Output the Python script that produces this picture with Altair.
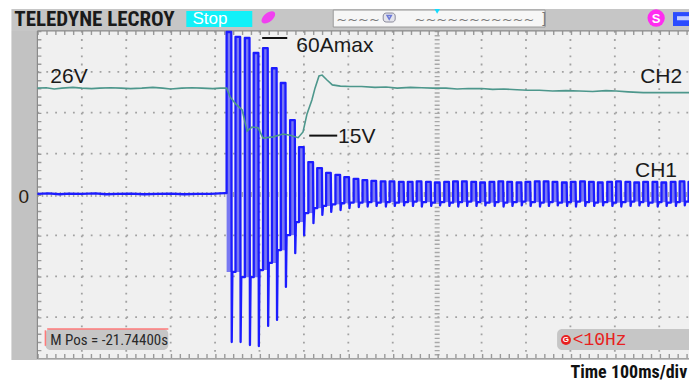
import altair as alt
import pandas as pd

# ---------------- data ----------------
# CH2 : supply voltage, volts (10 V/div), time in ms (100 ms/div, 0 = screen centre)
ch2_time_ms = [-900, -880, -862, -845, -820, -800, -778, -760, -735, -712,
               -690, -665, -640, -618, -600, -575, -552, -530, -505, -488, -474,
               -466, -453, -439, -428, -417, -403, -392, -369, -347, -331,
               -313, -302, -293, -282, -275, -266, -259, -248, -236, -218, -196,
               -170, -140, -115, -90, -60, -35, -10, 20, 45, 70,
               100, 125, 150, 180, 203, 230, 260, 290, 320, 350,
               380, 403, 430, 464, 500, 540, 585]
ch2_volts = [26.0, 26.1, 25.8, 26.0, 26.2, 26.0, 25.9, 26.0, 26.1, 26.0,
             25.9, 26.0, 26.2, 26.0, 25.8, 26.0, 26.1, 26.0, 25.9, 26.0, 26.0,
             23.8, 22.1, 20.7, 15.5, 16.5, 16.3, 13.8, 14.1, 14.8, 14.5,
             13.9, 15.3, 19.7, 23.1, 26.0, 29.0, 29.2, 28.0, 26.8, 26.5, 26.4,
             26.4, 26.2, 26.3, 26.0, 26.2, 26.1, 26.0, 26.0, 25.8, 25.9,
             25.9, 25.7, 25.8, 25.6, 25.5, 25.5, 25.3, 25.4, 25.3, 25.2,
             25.4, 25.3, 25.1, 24.9, 24.9, 24.9, 24.9]

# CH1 : current, amps (15 A/div) - quiet part before switch-on
ch1_base_time_ms = [-900, -875, -850, -830, -800, -770, -745, -720, -690, -660,
                    -630, -600, -570, -540, -510, -490, -478]
ch1_base_amps = [0.2, 0.4, 0.1, 0.3, 0.2, 0.4, 0.1, 0.2, 0.3, 0.1,
                 0.2, 0.3, 0.1, 0.2, 0.2, 0.4, 0.5]

# CH1 : one entry per mains cycle after switch-on
cycle_start_ms = [-474, -454, -433, -413, -392, -372, -352, -331, -311, -290,
                  -270, -250, -229, -209, -188, -168, -148, -127, -107, -86,
                  -66, -46, -25, -5, 16, 36, 56, 77, 97, 118,
                  138, 158, 179, 199, 220, 240, 260, 281, 301, 322,
                  342, 362, 383, 403, 424, 444, 464, 485, 505, 526,
                  546, 566]
cycle_peak_a = [59.6, 57.8, 57.4, 51.9, 53.7, 46.3, 40.9, 27.3, 17.4, 11.9,
                9.7, 7.9, 7.2, 6.4, 5.7, 5.3, 5.0, 4.8, 4.8, 4.6,
                4.6, 4.8, 4.6, 4.4, 4.6, 4.8, 4.8, 4.6, 4.4, 4.6,
                4.8, 4.6, 4.4, 4.6, 4.8, 4.8, 4.6, 4.4, 4.6, 4.8,
                4.6, 4.4, 4.6, 4.8, 4.6, 4.4, 4.6, 4.6, 4.4, 4.6,
                4.8, 4.6]
cycle_fill_a = [-28.4, -28.4, -30.3, -30.3, -27.7, -25.1, -20.4, -14.9, -10.1, -6.8,
                -5.0, -4.2, -3.6, -3.2, -3.0, -3.0, -2.8, -3.0, -2.8, -3.0,
                -2.8, -2.6, -2.8, -3.0, -2.8, -3.0, -2.8, -2.6, -2.8, -3.0,
                -2.8, -3.0, -2.8, -2.6, -2.8, -3.0, -2.8, -3.0, -2.8, -2.6,
                -2.8, -3.0, -2.8, -3.0, -2.8, -2.6, -2.8, -3.0, -2.8, -3.0,
                -2.8, -2.6]
cycle_trough_a = [-54.1, -54.1, -55.2, -55.6, -48.2, -46.0, -33.9, -21.5, -14.9, -10.5,
                  -7.5, -6.4, -5.7, -5.0, -4.6, -4.4, -4.2, -4.4, -4.2, -4.0,
                  -4.2, -4.4, -4.2, -4.0, -4.2, -4.4, -4.2, -4.2, -4.0, -4.2,
                  -4.4, -4.2, -4.0, -4.2, -4.4, -4.2, -4.0, -4.2, -4.4, -4.2,
                  -4.2, -4.0, -4.2, -4.4, -4.2, -4.0, -4.2, -4.4, -4.2, -4.2,
                  -4.0, -4.2]

VOLT_PER_DIV = 10.0
AMP_PER_DIV = 15.0

grid_time_ms = [-800, -700, -600, -500, -400, -300, -200, -100, 100, 200, 300, 400, 500]
grid_div = [-3, -2, -1, 1, 2, 3]

# ---------------- tables ----------------
ch2_df = pd.DataFrame({"t": ch2_time_ms, "d": [v / VOLT_PER_DIV for v in ch2_volts]})
ch2_df["i"] = range(len(ch2_df))

COL_W = 10.5  # width of the positive half-wave column, ms
pts = list(zip(ch1_base_time_ms, ch1_base_amps))
n = len(cycle_start_ms)
for i in range(n):
    t0 = cycle_start_ms[i]
    lo = cycle_fill_a[i] if i > 0 else ch1_base_amps[-1]
    pts.append((t0, lo))
    pts.append((t0, cycle_peak_a[i]))
    pts.append((t0 + COL_W, cycle_peak_a[i]))
    pts.append((t0 + COL_W + 1, cycle_trough_a[i]))
    if i + 1 < n:
        pts.append((t0 + COL_W + 2.5, cycle_fill_a[i + 1]))
ch1_df = pd.DataFrame({"t": [p[0] for p in pts], "d": [p[1] / AMP_PER_DIV for p in pts]})
ch1_df["i"] = range(len(ch1_df))

fill_df = pd.DataFrame({
    "x": cycle_start_ms,
    "x2": [t + COL_W for t in cycle_start_ms],
    "y": [f / AMP_PER_DIV for f in cycle_fill_a],
    "y2": [p / AMP_PER_DIV for p in cycle_peak_a],
})

XMAX = 567.0
xs = alt.Scale(domain=[-966.2, XMAX], nice=False, zero=False)
ys = alt.Scale(domain=[-4.584, 4.560], nice=False, zero=False)


def X(f):
    return alt.X(f, type="quantitative", scale=xs, axis=None)


def Y(f):
    return alt.Y(f, type="quantitative", scale=ys, axis=None)


def rects(rows, **mk):
    return alt.Chart(pd.DataFrame(rows)).mark_rect(**mk).encode(
        x=X("x"), x2="x2", y=Y("y"), y2="y2", color=alt.Color("fill:N", scale=None))


def texts(rows, **mk):
    return alt.Chart(pd.DataFrame(rows)).mark_text(**mk).encode(
        x=X("x"), y=Y("y"), text="s:N")


NARROW = '"Liberation Sans Narrow", "Roboto Condensed", "DejaVu Sans Condensed", "Liberation Sans", sans-serif'
SANS = '"Liberation Sans", Arial, sans-serif'
MONO = '"Liberation Mono", "DejaVu Sans Mono", monospace'

# ---------------- frame ----------------
frame = rects([
    dict(x=-958.5, x2=XMAX, y=4.0, y2=4.535, fill="#c6c6c6"),
    dict(x=-958.5, x2=-900, y=-4.046, y2=4.0, fill="#c2c2c2"),
    dict(x=-900, x2=XMAX, y=-4.025, y2=4.0, fill="#f0f0f0"),
])

vgrid = alt.Chart(pd.DataFrame({"x": grid_time_ms, "y": 4.0, "y2": -4.0})).mark_rule(
    color="#a2a2a2", strokeWidth=1.8, strokeDash=[1.8, 6.38]).encode(x=X("x"), y=Y("y"), y2="y2")
hgrid = alt.Chart(pd.DataFrame({"y": grid_div, "x": -900, "x2": XMAX})).mark_rule(
    color="#a2a2a2", strokeWidth=1.8, strokeDash=[1.8, 7.09]).encode(y=Y("y"), x=X("x"), x2="x2")
vcenter = alt.Chart(pd.DataFrame({"x": [0], "y": 4.0, "y2": -4.0})).mark_rule(
    color="#a8a8a8", strokeWidth=5, strokeDash=[1.4, 2.69]).encode(x=X("x"), y=Y("y"), y2="y2")
hcenter = alt.Chart(pd.DataFrame({"y": [0], "x": -900, "x2": XMAX})).mark_rule(
    color="#a8a8a8", strokeWidth=5, strokeDash=[1.4, 3.04]).encode(y=Y("y"), x=X("x"), x2="x2")
edge_h = alt.Chart(pd.DataFrame({"y": [3.95, -3.95], "x": -900, "x2": XMAX})).mark_rule(
    color="#9a9a9a", strokeWidth=4, strokeDash=[1.4, 7.49]).encode(y=Y("y"), x=X("x"), x2="x2")
edge_v = alt.Chart(pd.DataFrame({"x": [-895.5], "y": 4.0, "y2": -4.0})).mark_rule(
    color="#9a9a9a", strokeWidth=4, strokeDash=[1.4, 6.78]).encode(x=X("x"), y=Y("y"), y2="y2")
border = alt.Chart(pd.DataFrame([
    dict(x=-900, x2=XMAX, y=-4.02, y2=-4.02),
    dict(x=-900, x2=-900, y=4.0, y2=-4.02),
    dict(x=-900, x2=XMAX, y=4.0, y2=4.0),
])).mark_rule(color="#8a8a8a", strokeWidth=1.2).encode(x=X("x"), x2="x2", y=Y("y"), y2="y2")

# ---------------- traces ----------------
ch1_fill = alt.Chart(fill_df).mark_rect(color="#7878f2", clip=True).encode(
    x=X("x"), x2="x2", y=Y("y"), y2="y2")
ch1_line = alt.Chart(ch1_df).mark_line(color="#1c1cff", strokeWidth=2.3, strokeJoin="round",
                                       clip=True).encode(x=X("t"), y=Y("d"), order="i:Q")
ch2_line = alt.Chart(ch2_df).mark_line(color="#4d978c", strokeWidth=1.6, clip=True).encode(
    x=X("t"), y=Y("d"), order="i:Q")

# ---------------- annotations ----------------
ann_lines = alt.Chart(pd.DataFrame([
    dict(x=-394, x2=-337.5, y=3.826, y2=3.826),
    dict(x=-288, x2=-225, y=1.44, y2=1.44),
])).mark_rule(color="#111111", strokeWidth=2).encode(x=X("x"), x2="x2", y=Y("y"), y2="y2")
ann_text = texts([
    dict(x=-871, y=2.724, s="26V"),
    dict(x=-317, y=3.484, s="60Amax"),
    dict(x=-223, y=1.27, s="15V"),
    dict(x=457, y=2.724, s="CH2"),
    dict(x=445.5, y=0.428, s="CH1"),
], align="left", baseline="alphabetic", font=SANS, fontSize=21, color="#1a1a1a")
zero_text = texts([dict(x=-942.75, y=-0.20, s="0")], align="left", baseline="alphabetic",
                  font=SANS, fontSize=19, color="#2a2010")

# ---------------- top status bar ----------------
top_boxes = rects([
    dict(x=-234, x2=243, y=4.095, y2=4.51, fill="#f6f6f6"),
    dict(x=-564.75, x2=-416.25, y=4.095, y2=4.487, fill="#12f0f8"),
])
timeline_border = alt.Chart(pd.DataFrame([dict(x=-234, x2=243, y=4.095, y2=4.51)])).mark_rect(
    fill=None, stroke="#9a9a9a", strokeWidth=1).encode(x=X("x"), x2="x2", y=Y("y"), y2="y2")
brand = texts([dict(x=-952, y=4.11, s="TELEDYNE LECROY")], align="left", baseline="alphabetic",
              font=NARROW, fontSize=21, fontWeight="bold", color="#1a1a1a")
stop = texts([dict(x=-551, y=4.28, s="Stop")], align="left", baseline="middle",
             font=SANS, fontSize=17, color="#ffffff")
wave = texts([
    dict(x=-178, y=4.27, s="~~~~"),
    dict(x=84, y=4.27, s="~~~~~~~~~~~"),
], align="center", baseline="middle", font='"DejaVu Sans", sans-serif', fontSize=13, color="#7a7a7a")
bracket = texts([dict(x=241, y=4.30, s="]")], align="center", baseline="middle",
                font=SANS, fontSize=14, color="#777777")
marker = alt.Chart(pd.DataFrame([dict(x=-121.5, x2=-94.5, y=4.217, y2=4.437)])).mark_rect(
    fill="#e4e4ec", stroke="#8a8a9a", strokeWidth=1, cornerRadius=3).encode(
    x=X("x"), x2="x2", y=Y("y"), y2="y2")
marker_v = alt.Chart(pd.DataFrame([dict(x=-108, y=4.33)])).mark_point(
    shape="triangle-down", filled=False, size=18, color="#3a4cd0", strokeWidth=1.5).encode(x=X("x"), y=Y("y"))
trig = alt.Chart(pd.DataFrame([dict(x=0, y=4.48)])).mark_point(
    shape="triangle-down", filled=True, size=30, color="#10dcff", opacity=1).encode(x=X("x"), y=Y("y"))
pink = alt.Chart(pd.DataFrame([dict(x=-380, y=4.33)])).mark_point(
    shape="M -1 0 A 1 0.55 0 1 1 1 0 A 1 0.55 0 1 1 -1 0 Z", filled=True, size=260, angle=320,
    color="#f040f0", opacity=1).encode(x=X("x"), y=Y("y"))
magenta = alt.Chart(pd.DataFrame([dict(x=493, y=4.315)])).mark_point(
    shape="circle", filled=True, size=300, color="#ff2cf0", opacity=1).encode(x=X("x"), y=Y("y"))
magenta_s = texts([dict(x=493, y=4.30, s="S")], align="center", baseline="middle",
                  font=SANS, fontSize=13, fontWeight="bold", color="#ffffff")
printer = rects([
    dict(x=531, x2=XMAX, y=4.12, y2=4.46, fill="#2c4cff"),
    dict(x=540, x2=XMAX, y=4.26, y2=4.36, fill="#c6d0ff"),
])

# ---------------- bottom boxes ----------------
bottom_boxes = alt.Chart(pd.DataFrame([
    dict(x=-882, x2=-605.25, y=-3.802, y2=-3.289, fill="#c6c6c6"),
    dict(x=270, x2=600, y=-3.802, y2=-3.289, fill="#c6c6c6"),
])).mark_rect(cornerRadius=5).encode(x=X("x"), x2="x2", y=Y("y"), y2="y2",
                                    color=alt.Color("fill:N", scale=None))
salmon = alt.Chart(pd.DataFrame([
    dict(x=-878, x2=-605.25, y=-3.289, y2=-3.289),
    dict(x=-882, x2=-882, y=-3.32, y2=-3.70),
])).mark_rule(color="#ff7a7a", strokeWidth=1.5).encode(x=X("x"), x2="x2", y=Y("y"), y2="y2")
mpos = texts([dict(x=-871, y=-3.56, s="M Pos = -21.74400s")], align="left", baseline="middle",
             font=NARROW, fontSize=15, color="#2a2a2a")
red_dot = alt.Chart(pd.DataFrame([dict(x=290, y=-3.557)])).mark_point(
    shape="circle", filled=True, size=100, color="#e82020", opacity=1).encode(x=X("x"), y=Y("y"))
red_dot_g = texts([dict(x=290, y=-3.55, s="G")], align="center", baseline="middle",
                  font=SANS, fontSize=8, fontWeight="bold", color="#ffffff")
hz = texts([dict(x=305, y=-3.56, s="<10Hz")], align="left", baseline="middle",
           font=MONO, fontSize=18, color="#e82020")
timediv = texts([dict(x=563, y=-4.48, s="Time 100ms/div")], align="right", baseline="alphabetic",
                font=NARROW, fontSize=18, fontWeight="bold", color="#111111")

chart = alt.layer(
    frame, vgrid, hgrid, vcenter, hcenter, edge_h, edge_v, border,
    ch1_fill, ch1_line, ch2_line,
    ann_lines, ann_text, zero_text,
    top_boxes, timeline_border, brand, stop, wave, bracket, marker, marker_v, trig, pink,
    magenta, magenta_s, printer,
    bottom_boxes, salmon, mpos, red_dot, red_dot_g, hz, timediv,
).properties(
    width=681, height=374, padding=0, autosize=alt.AutoSizeParams(type="none"),
    background="#ffffff",
).configure_view(strokeWidth=0)

chart.save("out.html", embed_options={"renderer": "svg", "actions": False})
